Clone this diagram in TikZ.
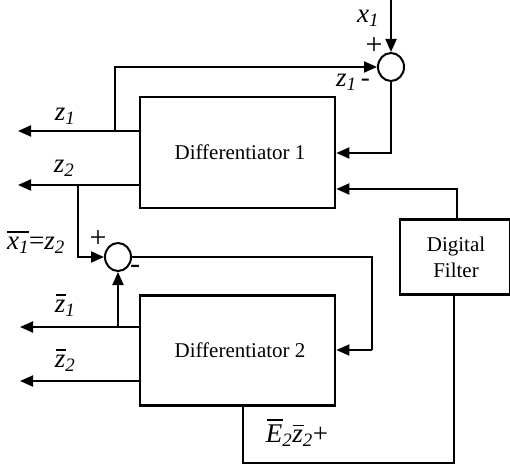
\documentclass[tikz,border=0pt]{standalone}
\usepackage{fontspec}
\setmainfont{Liberation Serif}
\usetikzlibrary{arrows.meta,shapes.geometric}
\newcommand{\ovl}[2][0pt]{\setbox0\hbox{#2}\rlap{\kern#1\raisebox{\dimexpr\ht0+4pt\relax}{\rule{\wd0}{1.8pt}}}\box0}
\begin{document}
\begin{tikzpicture}[x=1pt,y=-1pt,
  blockbox/.style={draw,line width=2.6pt,inner sep=0pt},
  sumnode/.style={draw,ellipse,line width=2pt,minimum width=26pt,minimum height=28pt,inner sep=0pt},
  wire/.style={line width=1.8pt},
  arr/.style={wire,-{Triangle[length=13pt,width=11pt]}},
  lbl/.style={font=\fontsize{27}{30}\selectfont\itshape,inner sep=0pt},
  sign/.style={font=\fontsize{30}{32}\selectfont,inner sep=0pt},
  boxtext/.style={font=\fontsize{21}{24}\selectfont,align=center}]
\useasboundingbox (0,0) rectangle (510,470);
% blocks
\node[blockbox,minimum width=195pt,minimum height=111pt] (d1) at (237.5,152.5) {};
\node[boxtext] (d1t) at (240,152) {Differentiator 1};
\node[blockbox,minimum width=195pt,minimum height=110pt] (d2) at (237.5,350.5) {};
\node[boxtext] (d2t) at (240,350) {Differentiator 2};
\node[blockbox,minimum width=110pt,minimum height=75pt] (df) at (455,257) {};
\node[boxtext,font=\fontsize{21}{26}\selectfont] (dft) at (456,257) {Digital\\Filter};
% sums
\node[sumnode] (s1) at (391,67) {};
\node[sumnode] (s2) at (118,257) {};
% coordinates
\coordinate (xin) at (391,0);
\coordinate (z1o) at (18,131);
\coordinate (z2o) at (18,185);
\coordinate (zb1o) at (20,327);
\coordinate (zb2o) at (20,381);
\coordinate (b1) at (115,131);
\coordinate (b2) at (78,185);
\coordinate (b3) at (118,327);
\coordinate (e1) at (140,131);
\coordinate (e2) at (140,185);
\coordinate (e3) at (140,327);
\coordinate (e4) at (140,381);
% connectors
\draw[arr] (xin) -- (s1.north);
\draw[arr] (b1) |- (s1.west);
\draw[arr] (s1.south) |- (d1.east |- 0,153);
\draw[arr] (df.north -| 457,0) |- (d1.east |- 0,189);
\draw[arr] (e1) -- (z1o);
\draw[arr] (e2) -- (z2o);
\draw[arr] (b2) |- (s2.west);
\draw[wire] (s2.east) -- (372,257) coordinate (c1) -- (372,350) coordinate (c2);
\draw[arr] (c2) -- (d2.east |- c2);
\draw[arr] (e3) -- (zb1o);
\draw[arr] (b3) -- (s2.south);
\draw[arr] (e4) -- (zb2o);
\draw[wire] (df.south -| 454,0) -- (454,463) coordinate (c3) -- (243,463) coordinate (c4) -- (d2.south -| c4);
% labels
\node[lbl] (lx1) at (368,18) {x\textsubscript{1}};
\node[sign] (p1) at (374,46) {+};
\node[lbl] (lz1m) at (353,82) {z\textsubscript{1}\,\upshape-};
\node[lbl] (lz1) at (65,116) {z\textsubscript{1}};
\node[lbl] (lz2) at (64,168) {z\textsubscript{2}};
\node[lbl] (lx1z2) at (36,242) {\ovl{x\textsubscript{1}}\upshape=\itshape z\textsubscript{2}};
\node[sign] (p2) at (98,239) {+};
\node[sign] (m2) at (135,269) {-};
\node[lbl] (lzb1) at (65,305) {\ovl[1pt]{z}\textsubscript{1}};
\node[lbl] (lzb2) at (65,360) {\ovl[1pt]{z}\textsubscript{2}};
\node[lbl] (le2) at (297,433) {\ovl[1pt]{E}\textsubscript{2}\ovl[1pt]{z}\textsubscript{2}\upshape+};
\end{tikzpicture}
\end{document}
